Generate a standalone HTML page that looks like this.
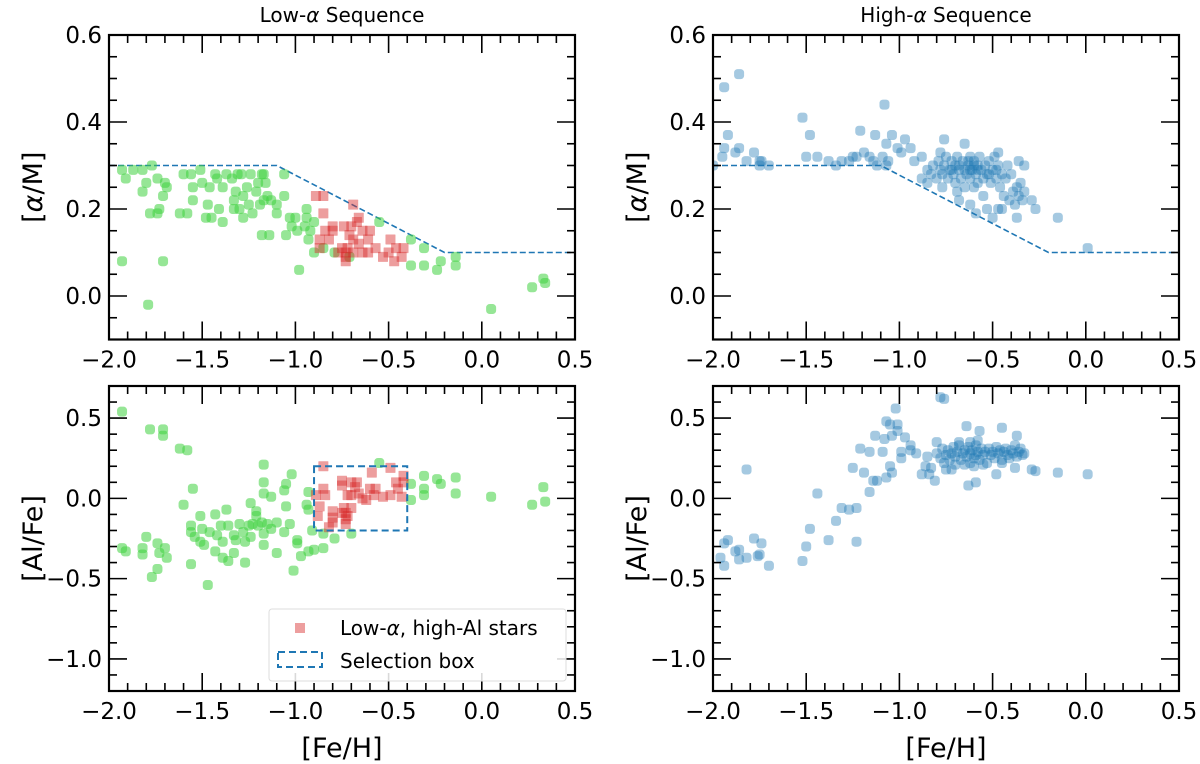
<!DOCTYPE html>
<html><head><meta charset="utf-8"><style>
body{margin:0;background:#fff}
svg{display:block;font-family:"DejaVu Sans","Liberation Sans",sans-serif}
</style></head><body>
<svg id="fig" width="1200" height="764" viewBox="0 0 1200 764" xmlns="http://www.w3.org/2000/svg"></svg>
<script>
const xTicks=[-2.0,-1.5,-1.0,-0.5,0.0,0.5];
const xTickLabels=["\u22122.0","\u22121.5","\u22121.0","\u22120.5","0.0","0.5"];
const yTicksAlpha=[0.0,0.2,0.4,0.6];
const yTickLabelsAlpha=["0.0","0.2","0.4","0.6"];
const yTicksAl=[-1.0,-0.5,0.0,0.5];
const yTickLabelsAl=["\u22121.0","\u22120.5","0.0","0.5"];
const cutFeh=[-2.0,-1.1,-0.2,0.5];
const cutAlpha=[0.3,0.3,0.1,0.1];
const boxFeh=[-0.9,-0.4];
const boxAl=[-0.2,0.2];

const lowGreenAlpha=[[-1.93,0.29],[-1.91,0.27],[-1.87,0.29],[-1.82,0.29],[-1.77,0.30],[-1.80,0.26],[-1.82,0.24],[-1.74,0.27],[-1.70,0.26],[-1.69,0.25],[-1.71,0.23],[-1.78,0.19],[-1.74,0.19],[-1.73,0.20],[-1.93,0.08],[-1.71,0.08],[-1.79,-0.02],[-1.60,0.28],[-1.56,0.28],[-1.55,0.25],[-1.55,0.22],[-1.62,0.19],[-1.58,0.19],[-1.51,0.29],[-1.50,0.26],[-1.47,0.21],[-1.48,0.18],[-1.45,0.18],[-1.41,0.20],[-1.39,0.17],[-1.43,0.28],[-1.42,0.27],[-1.46,0.25],[-1.39,0.25],[-1.37,0.28],[-1.34,0.27],[-1.31,0.28],[-1.29,0.28],[-1.32,0.24],[-1.28,0.23],[-1.33,0.22],[-1.26,0.25],[-1.24,0.28],[-1.25,0.21],[-1.30,0.20],[-1.33,0.20],[-1.28,0.18],[-1.23,0.19],[-1.20,0.26],[-1.18,0.28],[-1.17,0.28],[-1.16,0.26],[-1.21,0.24],[-1.15,0.23],[-1.13,0.22],[-1.19,0.21],[-1.17,0.22],[-1.10,0.21],[-1.10,0.19],[-1.06,0.23],[-1.06,0.28],[-1.18,0.14],[-1.14,0.14],[-1.03,0.18],[-1.00,0.18],[-1.02,0.16],[-1.05,0.14],[-0.99,0.15],[-0.94,0.20],[-0.94,0.18],[-0.90,0.17],[-0.95,0.16],[-0.92,0.15],[-0.93,0.13],[-0.98,0.06],[-0.90,0.10],[-0.85,0.11],[-0.79,0.10],[-0.71,0.09],[-0.55,0.17],[-0.38,0.13],[-0.38,0.07],[-0.31,0.11],[-0.31,0.07],[-0.24,0.06],[-0.22,0.08],[-0.14,0.07],[-0.14,0.09],[0.05,-0.03],[0.27,0.02],[0.33,0.04],[0.34,0.03]];
const lowRedAlpha=[[-0.89,0.23],[-0.85,0.23],[-0.85,0.19],[-0.80,0.16],[-0.80,0.15],[-0.84,0.15],[-0.87,0.13],[-0.82,0.13],[-0.87,0.11],[-0.69,0.21],[-0.66,0.18],[-0.67,0.17],[-0.70,0.16],[-0.74,0.16],[-0.60,0.15],[-0.64,0.15],[-0.71,0.14],[-0.69,0.13],[-0.66,0.12],[-0.61,0.13],[-0.75,0.11],[-0.64,0.10],[-0.57,0.11],[-0.49,0.13],[-0.46,0.11],[-0.42,0.11],[-0.53,0.09],[-0.47,0.08],[-0.43,0.09],[-0.73,0.10],[-0.73,0.09],[-0.73,0.08],[-0.72,0.11],[-0.77,0.10],[-0.69,0.10],[-0.61,0.10],[-0.50,0.10]];
const lowGreenAl=[[-1.93,0.54],[-1.78,0.43],[-1.71,0.43],[-1.71,0.39],[-1.62,0.31],[-1.58,0.30],[-1.55,0.06],[-1.60,-0.04],[-1.93,-0.31],[-1.91,-0.33],[-1.80,-0.24],[-1.82,-0.31],[-1.82,-0.35],[-1.74,-0.28],[-1.70,-0.31],[-1.73,-0.34],[-1.69,-0.37],[-1.74,-0.44],[-1.77,-0.49],[-1.56,-0.41],[-1.47,-0.54],[-1.56,-0.17],[-1.56,-0.21],[-1.54,-0.24],[-1.51,-0.11],[-1.50,-0.19],[-1.51,-0.27],[-1.49,-0.29],[-1.43,-0.10],[-1.37,-0.07],[-1.46,-0.21],[-1.42,-0.23],[-1.40,-0.17],[-1.36,-0.17],[-1.39,-0.27],[-1.43,-0.33],[-1.39,-0.37],[-1.36,-0.39],[-1.33,-0.23],[-1.32,-0.26],[-1.33,-0.34],[-1.30,-0.16],[-1.28,-0.21],[-1.27,-0.27],[-1.27,-0.40],[-1.24,-0.03],[-1.25,-0.17],[-1.23,-0.16],[-1.24,-0.24],[-1.21,-0.08],[-1.21,-0.11],[-1.20,-0.17],[-1.18,-0.15],[-1.17,-0.22],[-1.17,-0.29],[-1.15,-0.16],[-1.13,-0.19],[-1.10,-0.15],[-1.10,-0.34],[-1.17,0.21],[-1.17,0.10],[-1.17,0.03],[-1.13,0.01],[-1.06,0.05],[-1.05,0.09],[-1.02,0.15],[-1.05,-0.05],[-1.03,-0.16],[-1.06,-0.21],[-0.99,-0.26],[-0.99,-0.28],[-0.97,-0.36],[-1.01,-0.45],[-0.93,-0.33],[-0.90,-0.32],[-0.85,-0.31],[-0.93,0.04],[-0.94,-0.04],[-0.93,-0.07],[-0.91,-0.20],[-0.85,-0.22],[-0.79,-0.25],[-0.70,-0.22],[-0.55,0.22],[-0.38,0.09],[-0.38,-0.01],[-0.31,0.14],[-0.31,0.06],[-0.31,0.02],[-0.24,0.12],[-0.22,0.09],[-0.14,0.13],[-0.14,0.03],[0.05,0.01],[0.27,-0.04],[0.33,0.07],[0.34,-0.02]];
const lowRedAl=[[-0.85,0.20],[-0.59,0.16],[-0.49,0.19],[-0.42,0.14],[-0.75,0.11],[-0.75,0.08],[-0.85,0.06],[-0.89,0.02],[-0.84,0.02],[-0.87,-0.05],[-0.88,-0.11],[-0.80,-0.08],[-0.80,-0.12],[-0.80,-0.15],[-0.82,-0.18],[-0.70,0.10],[-0.67,0.10],[-0.68,0.07],[-0.72,0.02],[-0.70,0.02],[-0.66,0.03],[-0.64,0.00],[-0.62,-0.01],[-0.60,0.06],[-0.57,0.06],[-0.58,0.02],[-0.53,0.01],[-0.49,0.02],[-0.46,0.10],[-0.45,0.06],[-0.43,0.01],[-0.42,0.10],[-0.74,-0.06],[-0.73,-0.09],[-0.72,-0.11],[-0.75,-0.09],[-0.73,-0.13],[-0.70,-0.06],[-0.73,-0.16]];
const highAlpha=[[-2.00,0.30],[-1.95,0.32],[-1.94,0.34],[-1.94,0.48],[-1.92,0.37],[-1.86,0.51],[-1.88,0.33],[-1.86,0.34],[-1.82,0.31],[-1.78,0.33],[-1.75,0.30],[-1.75,0.31],[-1.74,0.31],[-1.70,0.30],[-1.52,0.41],[-1.48,0.37],[-1.50,0.32],[-1.44,0.32],[-1.38,0.31],[-1.34,0.30],[-1.31,0.31],[-1.27,0.31],[-1.25,0.32],[-1.21,0.38],[-1.23,0.32],[-1.19,0.33],[-1.16,0.32],[-1.13,0.37],[-1.14,0.31],[-1.12,0.30],[-1.08,0.44],[-1.07,0.35],[-1.04,0.37],[-1.09,0.32],[-1.06,0.31],[-1.07,0.30],[-1.01,0.34],[-0.99,0.33],[-0.97,0.36],[-0.94,0.34],[-0.92,0.31],[-0.88,0.32],[-0.88,0.27],[-0.85,0.26],[-0.76,0.36],[-0.78,0.33],[-0.77,0.25],[-0.69,0.24],[-0.68,0.22],[-0.65,0.35],[-0.62,0.21],[-0.59,0.19],[-0.53,0.20],[-0.50,0.18],[-0.47,0.20],[-0.47,0.33],[-0.37,0.18],[-0.36,0.31],[-0.33,0.30],[-0.29,0.22],[-0.27,0.20],[-0.15,0.18],[0.01,0.11],
[-0.85,0.29],[-0.83,0.28],[-0.82,0.30],[-0.80,0.27],[-0.79,0.31],[-0.78,0.29],[-0.77,0.28],[-0.76,0.30],[-0.75,0.32],[-0.74,0.27],[-0.73,0.29],[-0.72,0.31],[-0.71,0.28],[-0.70,0.30],[-0.70,0.26],[-0.69,0.32],[-0.68,0.29],[-0.67,0.27],[-0.66,0.31],[-0.65,0.29],[-0.64,0.28],[-0.63,0.30],[-0.62,0.32],[-0.62,0.27],[-0.61,0.29],[-0.60,0.31],[-0.60,0.25],[-0.59,0.28],[-0.58,0.30],[-0.58,0.26],[-0.57,0.32],[-0.56,0.29],[-0.55,0.27],[-0.54,0.30],[-0.53,0.28],[-0.52,0.31],[-0.51,0.26],[-0.50,0.29],[-0.49,0.32],[-0.48,0.27],[-0.47,0.30],[-0.46,0.25],[-0.45,0.28],[-0.44,0.23],[-0.43,0.27],[-0.42,0.30],[-0.41,0.22],[-0.40,0.28],[-0.39,0.24],[-0.38,0.21],[-0.37,0.25],[-0.36,0.23],[-0.35,0.26],[-0.34,0.22],[-0.33,0.24],[-0.45,0.20],[-0.55,0.23],[-0.65,0.25],[-0.60,0.30],[-0.62,0.29],[-0.58,0.29],[-0.63,0.31],[-0.68,0.30],[-0.72,0.29],[-0.52,0.28],[-0.48,0.29]];
const highAl=[[-1.96,-0.37],[-1.94,-0.42],[-1.94,-0.28],[-1.92,-0.26],[-1.88,-0.33],[-1.86,-0.32],[-1.86,-0.38],[-1.82,-0.37],[-1.82,0.18],[-1.78,-0.25],[-1.74,-0.28],[-1.75,-0.35],[-1.76,-0.36],[-1.70,-0.42],[-1.52,-0.39],[-1.50,-0.30],[-1.48,-0.19],[-1.44,0.03],[-1.38,-0.26],[-1.34,-0.14],[-1.31,-0.06],[-1.27,-0.07],[-1.23,-0.06],[-1.23,-0.27],[-1.25,0.19],[-1.21,0.31],[-1.19,0.16],[-1.16,0.29],[-1.16,0.04],[-1.13,0.39],[-1.14,0.11],[-1.12,0.11],[-1.09,0.29],[-1.08,0.37],[-1.07,0.48],[-1.05,0.46],[-1.07,0.13],[-1.05,0.20],[-1.04,0.16],[-1.02,0.56],[-1.01,0.46],[-1.01,0.42],[-1.04,0.39],[-0.99,0.29],[-0.99,0.25],[-0.97,0.38],[-0.94,0.33],[-0.94,0.30],[-0.91,0.28],[-0.88,0.15],[-0.86,0.20],[-0.83,0.19],[-0.84,0.15],[-0.85,0.26],[-0.81,0.11],[-0.78,0.63],[-0.76,0.62],[-0.80,0.35],[-0.75,0.18],[-0.64,0.45],[-0.63,0.08],[-0.59,0.10],[-0.57,0.42],[-0.45,0.44],[-0.48,0.15],[-0.37,0.39],[-0.29,0.18],[-0.27,0.17],[-0.15,0.16],[0.01,0.15],
[-0.80,0.28],[-0.78,0.25],[-0.77,0.31],[-0.76,0.22],[-0.75,0.27],[-0.74,0.30],[-0.73,0.24],[-0.72,0.28],[-0.71,0.32],[-0.70,0.26],[-0.70,0.21],[-0.69,0.29],[-0.68,0.33],[-0.67,0.24],[-0.66,0.28],[-0.65,0.30],[-0.64,0.26],[-0.63,0.32],[-0.62,0.22],[-0.62,0.28],[-0.61,0.30],[-0.60,0.25],[-0.59,0.33],[-0.59,0.27],[-0.58,0.29],[-0.57,0.24],[-0.56,0.31],[-0.55,0.27],[-0.54,0.29],[-0.53,0.22],[-0.52,0.31],[-0.51,0.27],[-0.50,0.29],[-0.49,0.25],[-0.48,0.32],[-0.47,0.28],[-0.46,0.30],[-0.45,0.24],[-0.44,0.29],[-0.43,0.31],[-0.42,0.27],[-0.41,0.25],[-0.40,0.30],[-0.39,0.28],[-0.38,0.33],[-0.37,0.26],[-0.36,0.29],[-0.35,0.31],[-0.34,0.27],[-0.33,0.28],[-0.65,0.21],[-0.55,0.21],[-0.45,0.22],[-0.38,0.19],[-0.72,0.18],[-0.60,0.20],[-0.62,0.35],[-0.58,0.36],[-0.68,0.35]];

const NS="http://www.w3.org/2000/svg";
const svg=document.getElementById('fig');
function mk(tag,attrs,parent){const e=document.createElementNS(NS,tag);for(const k in attrs)e.setAttribute(k,attrs[k]);(parent||svg).appendChild(e);return e;}
function alphaText(t,pre,post){
  t.appendChild(document.createTextNode(pre));
  const s=mk('tspan',{'font-style':'italic'},t);s.textContent='\u03b1';
  t.appendChild(document.createTextNode(post));
}

function panel(id,L,R,T,B,ymin,ymax,yt,ytl,minorStep,title,ylab,xlab){
  const g=mk('g',{});
  
  
  const sx=v=>L+(v+2)/(2.5)*(R-L);
  const sy=v=>B-(v-ymin)/(ymax-ymin)*(B-T);
  const clipId='clip-'+id;
  const cp=mk('clipPath',{id:clipId},g);mk('rect',{x:L,y:T,width:R-L,height:B-T},cp);
  const marks=mk('g',{'clip-path':'url(#'+clipId+')'},g);
  
  
  const tk=mk('g',{stroke:'#000','stroke-width':1.6},g);
  
  
  for(let i=0;i<=25;i++){const v=-2+i*0.1;const x=sx(v);const major=i%5===0;const len=major?18:8;
    mk('line',{x1:x,y1:B,x2:x,y2:B-len},tk);mk('line',{x1:x,y1:T,x2:x,y2:T+len},tk);}
  const nmin=Math.round((ymax-ymin)/minorStep);
  for(let i=0;i<=nmin;i++){const v=ymin+i*minorStep;const y=sy(v);
    const major=yt.some(t=>Math.abs(t-v)<1e-6);const len=major?18:8;
    mk('line',{x1:L,y1:y,x2:L+len,y2:y},tk);mk('line',{x1:R,y1:y,x2:R-len,y2:y},tk);}
  xTicks.forEach((v,i)=>{const t=mk('text',{x:sx(v),y:B+28,'font-size':23,'text-anchor':'middle'},g);t.textContent=xTickLabels[i];
    
    });
  yt.forEach((v,i)=>{const t=mk('text',{x:L-7,y:sy(v)+8,'font-size':23,'text-anchor':'end'},g);t.textContent=ytl[i];
    
    });
  mk('rect',{x:L,y:T,width:R-L,height:B-T,fill:'none',stroke:'#000','stroke-width':2.2},g);
  if(title){const t=mk('text',{x:(L+R)/2,y:T-13,'font-size':20,'text-anchor':'middle'},g);alphaText(t,title[0],title[1]);
    
    }
  if(ylab){const t=mk('text',{x:0,y:0,'font-size':27,'text-anchor':'middle',transform:'translate('+(L-67)+','+((T+B)/2)+') rotate(-90)'},g);
    if(Array.isArray(ylab))alphaText(t,ylab[0],ylab[1]);else t.textContent=ylab;
    
    }
  if(xlab){const t=mk('text',{x:(L+R)/2,y:B+66,'font-size':27,'text-anchor':'middle'},g);t.textContent=xlab;
    
    }
  return {sx,sy,marks};
}
function pts(p,data,fill,op,name,sq){
  data.forEach(d=>{const s=10;const r=mk('rect',{x:p.sx(d[0])-s/2,y:p.sy(d[1])-s/2,width:s,height:s,rx:sq?0.5:3.5,fill:fill,'fill-opacity':op},p.marks);
    
    });
}
function cut(p,name){
  const d=cutFeh.map((v,i)=>(i?'L':'M')+p.sx(v)+','+p.sy(cutAlpha[i])).join(' ');
  const l=mk('path',{d:d,fill:'none',stroke:'#1f77b4','stroke-width':1.6,'stroke-dasharray':'6,3'},p.marks);
  
  
}
const p1=panel('low-alpha',109,575,35,339.5,-0.1,0.6,yTicksAlpha,yTickLabelsAlpha,0.05,['Low-',' Sequence'],['[','/M]'],null);
const p2=panel('high-alpha',713,1179,35,339.5,-0.1,0.6,yTicksAlpha,yTickLabelsAlpha,0.05,['High-',' Sequence'],['[','/M]'],null);
const p3=panel('low-al',109,575,386,691,-1.2,0.7,yTicksAl,yTickLabelsAl,0.1,null,'[Al/Fe]','[Fe/H]');
const p4=panel('high-al',713,1179,386,691,-1.2,0.7,yTicksAl,yTickLabelsAl,0.1,null,'[Al/Fe]','[Fe/H]');
cut(p1,'low-alpha-cut-line');cut(p2,'high-alpha-cut-line');
pts(p1,lowGreenAlpha,'#3fd23f',0.55,'low-alpha-star',false);
pts(p1,lowRedAlpha,'#d62728',0.45,'high-al-star',true);
pts(p2,highAlpha,'#1f77b4',0.4,'high-alpha-star',false);
pts(p3,lowGreenAl,'#3fd23f',0.55,'low-alpha-star',false);
pts(p3,lowRedAl,'#d62728',0.45,'high-al-star',true);
pts(p4,highAl,'#1f77b4',0.4,'high-alpha-star',false);
const bx=mk('rect',{x:p3.sx(boxFeh[0]),y:p3.sy(boxAl[1]),width:p3.sx(boxFeh[1])-p3.sx(boxFeh[0]),height:p3.sy(boxAl[0])-p3.sy(boxAl[1]),fill:'none',stroke:'#1f77b4','stroke-width':2,'stroke-dasharray':'7,4'},p3.marks);


const lg=mk('g',{});


mk('rect',{x:269,y:609,width:297,height:72,rx:3,fill:'#fff','fill-opacity':0.85,stroke:'#ddd','stroke-width':1},lg);
const m=mk('rect',{x:295,y:623,width:10,height:10,fill:'#d62728','fill-opacity':0.45},lg);


const t1=mk('text',{x:340,y:635,'font-size':20},lg);alphaText(t1,'Low-',', high-Al stars');


const m2=mk('rect',{x:278,y:652,width:44,height:15,fill:'none',stroke:'#1f77b4','stroke-width':2,'stroke-dasharray':'7,4'},lg);


const t2=mk('text',{x:340,y:668,'font-size':20},lg);t2.textContent='Selection box';


</script>
</body></html>
